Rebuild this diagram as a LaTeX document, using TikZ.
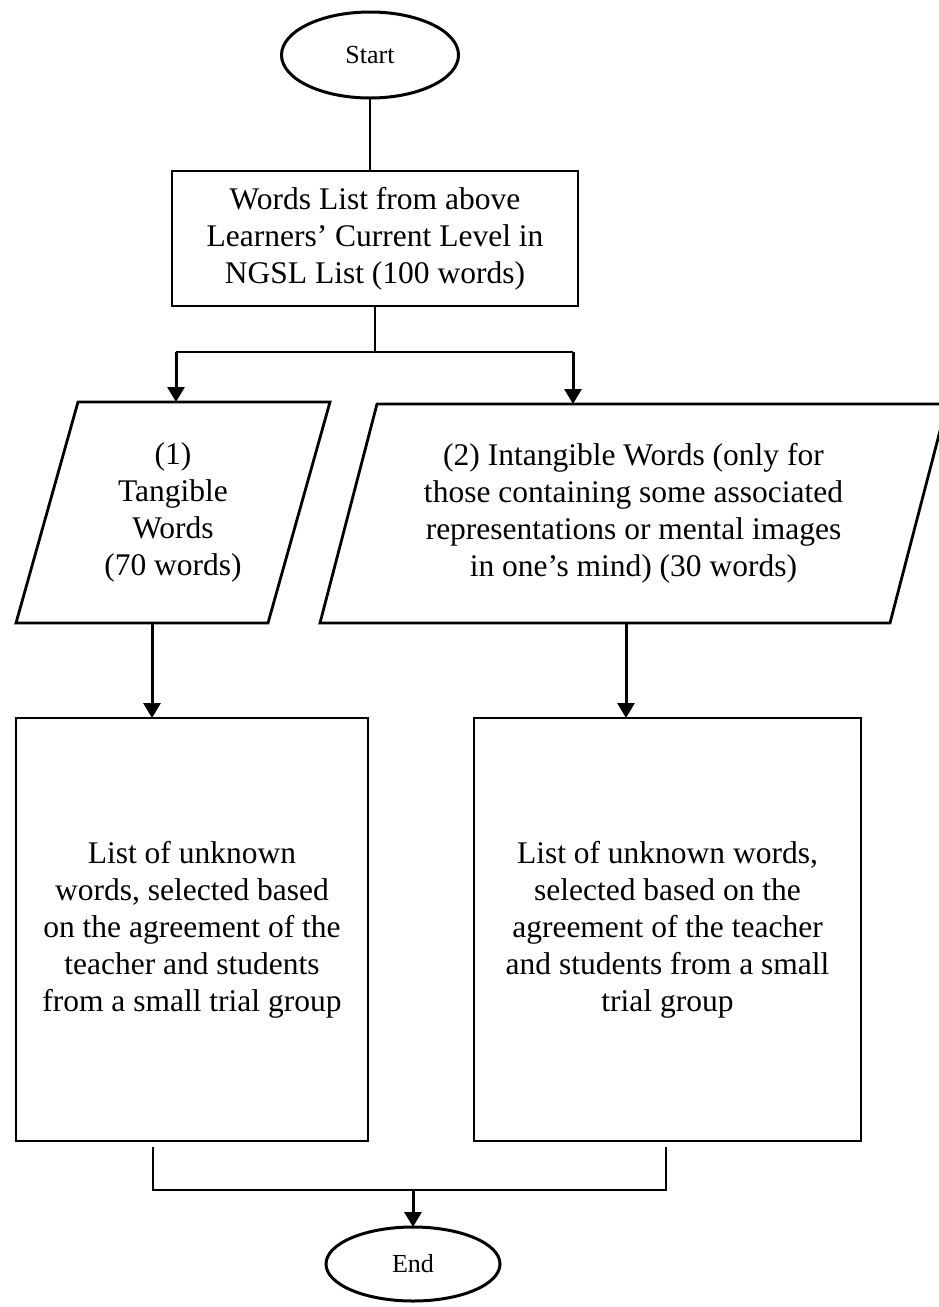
\documentclass[tikz,border=0pt]{standalone}
\usepackage{fontspec}
\setmainfont{Liberation Serif}
\usetikzlibrary{shapes.geometric,arrows.meta}

\begin{document}
\begin{tikzpicture}[x=1pt,y=-1pt,
  every node/.style={inner sep=0pt, outer sep=0pt, align=center},
  bodytext/.style={font=\fontsize{31.5}{37}\selectfont},
  termtext/.style={font=\fontsize{26}{30}\selectfont},
  terminal/.style={ellipse, draw, line width=3pt, termtext},
  procbox/.style={rectangle, draw, line width=2.8pt, bodytext},
  iobody/.style={rectangle, bodytext},
  ioframe/.style={line width=2.8pt, line join=miter},
  link/.style={line width=1.3pt},
  arr/.style={line width=3pt, -{Triangle[width=17pt,length=15pt]}}
]
\useasboundingbox (0,0) rectangle (938,1307);

% terminals
\node[terminal, minimum width=177pt, minimum height=86pt] (start) at (370,55) {Start};
\node[terminal, minimum width=174pt, minimum height=74pt] (stop) at (413,1264) {End};

% source list
\node[procbox, minimum width=406pt, minimum height=135pt] (src) at (375,238.5)
  {Words List from above\\Learners’ Current Level in\\NGSL List (100 words)};

% the two word groups (parallelograms drawn round their text nodes)
\node[iobody, minimum width=252pt, minimum height=221pt] (tang) at (173,512.5)
  {(1)\\Tangible\\Words\\(70 words)};
\draw[ioframe] ([xshift=31pt]tang.north west) -- ([xshift=31pt]tang.north east)
  -- ([xshift=-31pt]tang.south east) -- ([xshift=-31pt]tang.south west) -- cycle;

\node[iobody, minimum width=570pt, minimum height=219pt] (intang) at (633.5,513.5)
  {(2) Intangible Words (only for\\those containing some associated\\representations or mental images\\in one’s mind) (30 words)};
\draw[ioframe] ([xshift=28.5pt]intang.north west) -- ([xshift=28.5pt]intang.north east)
  -- ([xshift=-28.5pt]intang.south east) -- ([xshift=-28.5pt]intang.south west) -- cycle;

% selected word lists
\node[procbox, minimum width=352pt, minimum height=423pt] (selA) at (192,929.5)
  {List of unknown\\words, selected based\\on the agreement of the\\teacher and students\\from a small trial group};
\node[procbox, minimum width=387pt, minimum height=423pt] (selB) at (667.5,929.5)
  {List of unknown words,\\selected based on the\\agreement of the teacher\\and students from a small\\trial group};

% junction points
\coordinate (splitL) at (176,352);
\coordinate (splitR) at (573,352);
\coordinate (merge) at (413,1190);

% connectors
\draw[link] (start.south) -- (start.south |- src.north);
\draw[link] (src.south) -- (src.south |- splitL);
\draw[link] (splitL) -- (splitR);
\draw[arr] (splitL) -- (splitL |- tang.north);
\draw[arr] (splitR) -- (splitR |- intang.north);
\draw[arr] ([xshift=-21pt]tang.south) -- ([xshift=-21pt]tang.south |- selA.north);
\draw[arr] ([xshift=-7.5pt]intang.south) -- ([xshift=-7.5pt]intang.south |- selB.north);
\draw[link] ([xshift=-39pt,yshift=-6pt]selA.south) |- (merge);
\draw[link] ([xshift=-1.5pt,yshift=-6pt]selB.south) |- (merge);
\draw[arr] (merge) -- (stop.north);
\end{tikzpicture}
\end{document}
